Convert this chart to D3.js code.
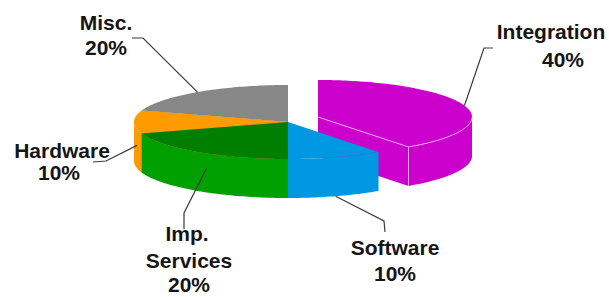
<!DOCTYPE html>
<html>
<head>
<meta charset="utf-8">
<script src="https://cdn.jsdelivr.net/npm/d3@7"></script>
<style>
  body { margin: 0; background: #fff; }
  svg text { font-family: "Liberation Sans", Arial, sans-serif; font-weight: bold; font-size: 21px; fill: #151515; }
</style>
</head>
<body>
<svg width="609" height="297"></svg>
<script>
// data
const categories = ["Integration", "Software", "Imp. Services", "Hardware", "Misc."];
const shares = [40, 10, 20, 10, 20];
const labelLines = [["Integration"], ["Software"], ["Imp.", "Services"], ["Hardware"], ["Misc."]];
const topColors  = ["#cc00cc", "#0097e2", "#007e00", "#ff9a00", "#878787"];
const sideColors = ["#cc00cc", "#0097e2", "#00a000", "#ff9a00", "#878787"];

const svg = d3.select("svg"),
    width = +svg.attr("width"),
    height = +svg.attr("height");

// pie geometry (tilted ellipse)
const cx = 288, cy = 122, rx = 154, ry = 37, depth = 39;
const explode = [[30, -5], [0, 0], [0, 0], [0, 0], [0, 0]];

// label layout: text anchor points + leader elbow / anchor on the pie
const layout = [
  { text: [[551, 39], [563, 67]], leader: [[493, 48], [484, 48]], r: 1.0, dz: 0 },
  { text: [[395, 255], [395, 281]], leader: [[385, 232], [384, 221]], r: 1.0, dz: 1 },
  { text: [[187, 241], [189, 268], [189, 292]], leader: [[184, 229], [184, 213]], r: 0.9, dz: 0.5 },
  { text: [[62, 158], [59, 180]], leader: [[93, 162], [106, 161]], r: 0.98, dz: 0.6 },
  { text: [[106, 30], [106, 55]], leader: [[132, 38], [143, 38]], r: 1.0, dz: 0 }
];

const pie = d3.pie().sort(null).startAngle(0).endAngle(2 * Math.PI);
const arcs = pie(shares);

function pt(a, i, r = 1, dz = 0) {
  const o = explode[i];
  return [cx + o[0] + rx * r * Math.sin(a), cy + o[1] - ry * r * Math.cos(a) + dz];
}
function rim(a0, a1, i, dz) {
  const n = Math.max(2, Math.ceil((a1 - a0) / 0.02));
  return d3.range(n + 1).map(k => pt(a0 + (a1 - a0) * k / n, i, 1, dz));
}
const line = d3.line().curve(d3.curveLinear);

// draw back to front: Integration, Misc, Hardware, Imp. Services, Software
const order = [0, 4, 3, 2, 1];
const g = svg.append("g");

order.forEach(i => {
  const d = arcs[i];
  const a0 = d.startAngle, a1 = d.endAngle;
  const c = pt(0, i, 0);

  // radial face at the end angle (only faces the viewer when sin > 0)
  if (Math.sin(a1) > 0.01) {
    const e = pt(a1, i);
    g.append("path")
      .attr("d", line([c, e, [e[0], e[1] + depth], [c[0], c[1] + depth]]) + "Z")
      .attr("fill", sideColors[i]);
  }
  // radial face at the start angle
  if (Math.sin(a0) < -0.01) {
    const s = pt(a0, i);
    g.append("path")
      .attr("d", line([c, s, [s[0], s[1] + depth], [c[0], c[1] + depth]]) + "Z")
      .attr("fill", sideColors[i]);
  }
  // outer wall, front half only
  const s = Math.max(a0, Math.PI / 2), e = Math.min(a1, 3 * Math.PI / 2);
  if (e > s) {
    const top = rim(s, e, i, 0), bot = rim(s, e, i, depth).reverse();
    g.append("path")
      .attr("d", line(top.concat(bot)) + "Z")
      .attr("fill", sideColors[i]);
  }
  // top face
  g.append("path")
    .attr("d", line([c].concat(rim(a0, a1, i, 0))) + "Z")
    .attr("fill", topColors[i]);

  // pale edge highlights on the pulled-out slice
  if (i === 0) {
    const eTop = pt(a1, i);
    const edges = [
      [c, eTop],
      [eTop, [eTop[0], eTop[1] + depth]],
      rim(Math.PI / 2, a1, i, 0)
    ];
    edges.forEach(pts => g.append("path")
      .attr("d", line(pts))
      .attr("fill", "none")
      .attr("stroke", "#f0a8f0")
      .attr("stroke-width", 1));
  }
});

// leader lines
arcs.forEach((d, i) => {
  const L = layout[i];
  const mid = (d.startAngle + d.endAngle) / 2;
  const anchor = pt(mid, i, L.r, L.dz * depth);
  svg.append("path")
    .attr("d", line(L.leader.concat([anchor])))
    .attr("fill", "none")
    .attr("stroke", "#3a3a3a")
    .attr("stroke-width", 1.2);
});

// labels
arcs.forEach((d, i) => {
  const L = layout[i];
  const lines = labelLines[i].concat([shares[i] + "%"]);
  lines.forEach((t, k) => {
    svg.append("text")
      .attr("x", L.text[k][0])
      .attr("y", L.text[k][1])
      .attr("text-anchor", "middle")
      .text(t);
  });
});
</script>
</body>
</html>
